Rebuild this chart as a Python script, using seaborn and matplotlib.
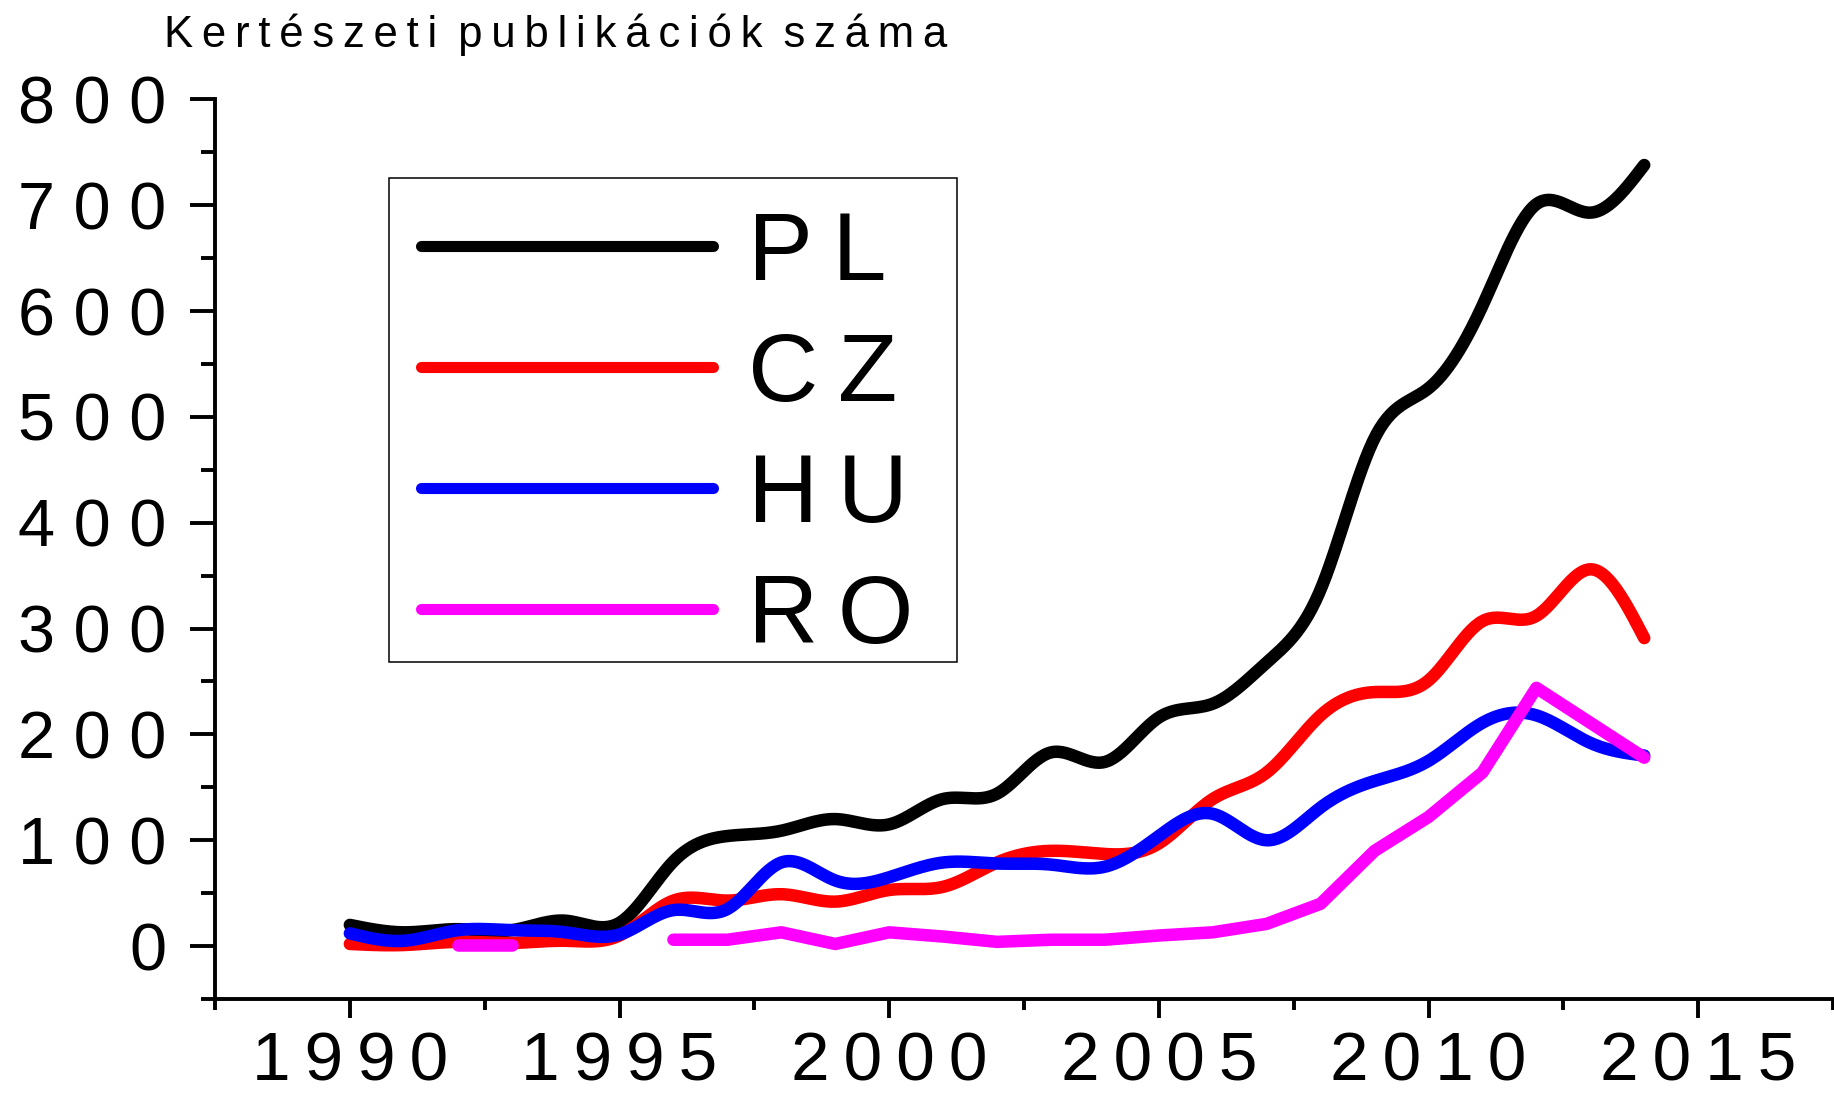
import numpy as np
import pandas as pd
import matplotlib
matplotlib.use("Agg")
import matplotlib.pyplot as plt
from matplotlib.lines import Line2D
from matplotlib.patches import Rectangle
from matplotlib.ticker import MultipleLocator
import seaborn as sns

# ---------------- data ----------------
years = list(range(1990, 2015))
pl = [20, 13, 16, 15, 24, 22, 80, 104, 109, 120, 115, 139, 144, 183, 174,
      216, 229, 268, 337, 480, 527, 605, 701, 693, 738]
cz = [2, 1, 4, 3, 5, 10, 43, 43, 49, 42, 53, 56, 79, 90, 87,
      97, 139, 164, 218, 240, 251, 307, 312, 356, 291]
hu = [12, 5, 15, 15, 13, 11, 34, 35, 79, 62, 65, 79, 78, 77, 75,
      104, 125, 100, 131, 156, 175, 211, 218, 192, 180]
ro = [None, None, 1, 1, None, None, 6, 6, 13, 2, 13, 9, 4, 6, 6,
      10, 13, 21, 40, 90, 122, 164, 244, 211, 178]
series_labels = ["PL", "CZ", "HU", "RO"]
colors = ["#000000", "#FF0000", "#0000FF", "#FF00FF"]
x_ticks = [1990, 1995, 2000, 2005, 2010, 2015]
y_ticks = [0, 100, 200, 300, 400, 500, 600, 700, 800]
title = "Kertészeti publikációk száma"

THIN = "\u2009"


def spaced(s, sep=THIN, wordsep=THIN + " "):
    return wordsep.join(sep.join(w) for w in s.split(" "))


def natural_spline(x, y, n=30):
    x = np.asarray(x, float)
    y = np.asarray(y, float)
    m = len(x)
    h = np.diff(x)
    A = np.zeros((m, m))
    b = np.zeros(m)
    A[0, 0] = 1
    A[-1, -1] = 1
    for i in range(1, m - 1):
        A[i, i - 1] = h[i - 1]
        A[i, i] = 2 * (h[i - 1] + h[i])
        A[i, i + 1] = h[i]
        b[i] = 6 * ((y[i + 1] - y[i]) / h[i] - (y[i] - y[i - 1]) / h[i - 1])
    M = np.linalg.solve(A, b)
    xs, ys = [], []
    for i in range(m - 1):
        t = np.linspace(x[i], x[i + 1], n, endpoint=(i == m - 2))
        a = (x[i + 1] - t) / h[i]
        c = (t - x[i]) / h[i]
        val = (a * y[i] + c * y[i + 1]
               + ((a ** 3 - a) * M[i] + (c ** 3 - c) * M[i + 1]) * h[i] ** 2 / 6)
        xs.append(t)
        ys.append(val)
    return np.concatenate(xs), np.concatenate(ys)


# ---------------- style ----------------
sns.set_theme(style="ticks")
plt.rcParams["font.family"] = ["Liberation Sans", "DejaVu Sans"]
plt.rcParams["axes.unicode_minus"] = False
plt.rcParams["text.color"] = "black"
plt.rcParams["xtick.color"] = "black"
plt.rcParams["ytick.color"] = "black"

fig = plt.figure(figsize=(18.34, 10.93), dpi=100)
fig.patch.set_facecolor("white")
ax = fig.add_axes([215 / 1834, 1 - 999 / 1093, (1833 - 215) / 1834, (999 - 99.4) / 1093])
ax.set_facecolor("white")

LW = 9.0
# smooth (spline-connected) series
for vals, col in zip([pl, cz, hu], colors[:3]):
    sx, sy = natural_spline(years, vals)
    df = pd.DataFrame({"year": sx, "value": sy})
    sns.lineplot(data=df, x="year", y="value", color=col, linewidth=LW,
                 estimator=None, sort=False, ax=ax, legend=False,
                 solid_capstyle="round")

# RO: straight segments with a gap where data is missing
ro_df = pd.DataFrame({"year": years, "value": ro})
ro_df["value"] = pd.to_numeric(ro_df["value"])
ro_df["seg"] = ro_df["value"].isna().cumsum()
ro_df = ro_df.dropna()
sns.lineplot(data=ro_df, x="year", y="value", units="seg", estimator=None,
             color=colors[3], linewidth=LW, sort=False, ax=ax, legend=False,
             solid_capstyle="round")

# ---------------- axes ----------------
ax.set_xlim(1987.5, 2017.5)
ax.set_ylim(-50, 800)
ax.set_xlabel("")
ax.set_ylabel("")
ax.set_xticks(x_ticks)
ax.set_xticklabels([spaced(str(v)) for v in x_ticks])
ax.set_yticks(y_ticks)
ax.set_yticklabels([spaced(str(v), sep=" ") for v in y_ticks])
ax.xaxis.set_minor_locator(MultipleLocator(2.5))
ax.yaxis.set_minor_locator(MultipleLocator(50))

for side in ["top", "right"]:
    ax.spines[side].set_visible(False)
for side in ["left", "bottom"]:
    ax.spines[side].set_linewidth(2.8)
    ax.spines[side].set_color("black")
    ax.spines[side].set_capstyle("projecting")

ax.tick_params(axis="x", which="major", direction="out", length=14, width=2.8,
               labelsize=50, pad=9, colors="black")
ax.tick_params(axis="x", which="minor", direction="out", length=8, width=2.8)
ax.tick_params(axis="y", which="major", direction="out", length=18, width=2.8,
               labelsize=48, pad=17, colors="black")
ax.tick_params(axis="y", which="minor", direction="out", length=10, width=2.8)
ax.grid(False)

# ---------------- legend ----------------
def ax_x(px):
    return (px - 215) / 1618


def ax_y(py):
    return (999 - py) / 899.6


handles = [Line2D([0], [0], color=c, lw=8.0, solid_capstyle="round") for c in colors]
leg = ax.legend(handles, [spaced(s) for s in series_labels],
                loc="upper left", bbox_to_anchor=(ax_x(389), ax_y(178)),
                borderaxespad=0, fontsize=70, handlelength=3.0, handletextpad=0.36,
                labelspacing=0.32, borderpad=0.33, frameon=False)
for t in leg.get_texts():
    t.set_color("black")
ax.add_patch(Rectangle((ax_x(389), ax_y(662)), ax_x(957) - ax_x(389),
                       ax_y(178) - ax_y(662), transform=ax.transAxes,
                       fill=False, edgecolor="black", linewidth=1.1,
                       clip_on=False, zorder=5))

# ---------------- title ----------------
fig.text(164 / 1834, 1 - 47 / 1093, spaced(title), fontsize=31.5,
         ha="left", va="baseline", color="black")

fig.savefig("out.png", dpi=100, facecolor="white")
